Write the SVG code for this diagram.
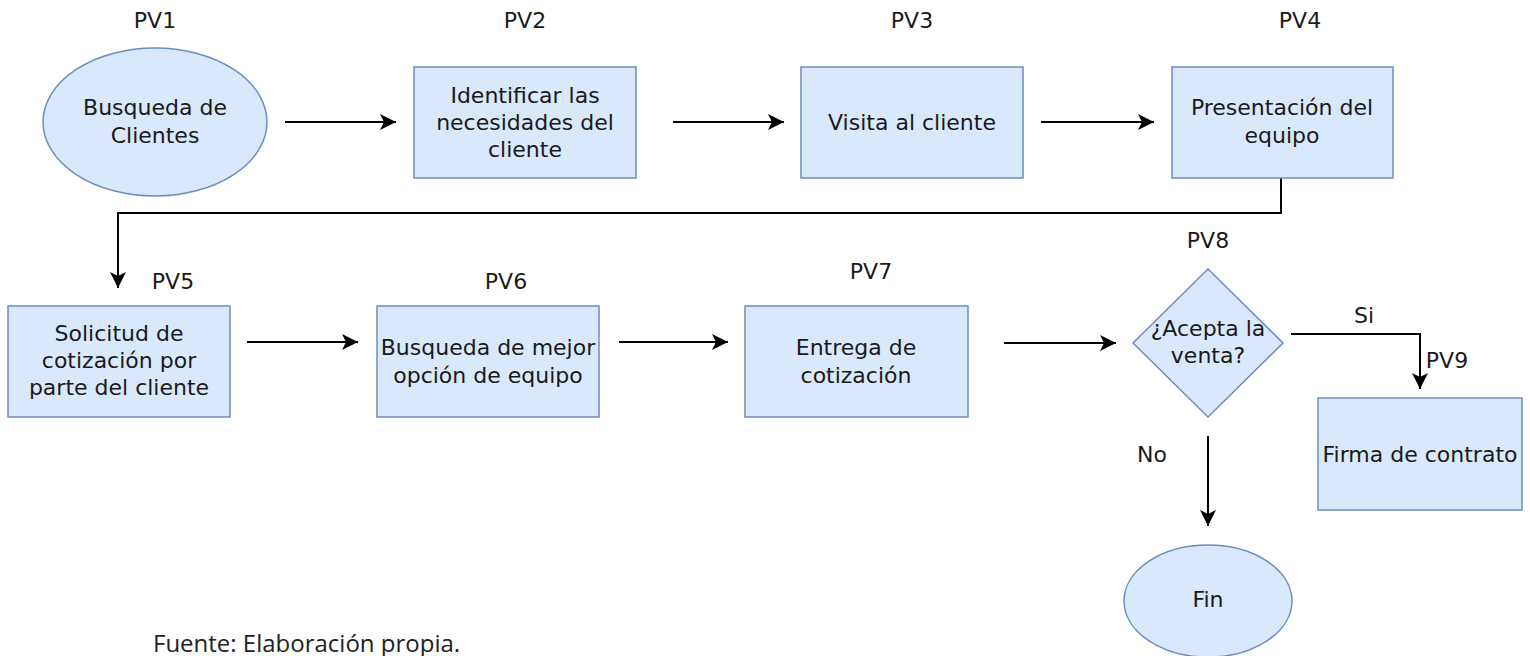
<svg xmlns="http://www.w3.org/2000/svg" width="1530" height="656" viewBox="0 0 1530 656">
<defs>
<style>
.n{fill:#dae8fc;stroke:#6c8ebf;stroke-width:1.5}
.t{font-family:"DejaVu Sans",Verdana,sans-serif;font-size:22px;fill:#1a1a1a;text-anchor:middle}
.c{fill:none;stroke:#000;stroke-width:2;marker-end:url(#ah)}
</style>
<marker id="ah" markerUnits="userSpaceOnUse" markerWidth="18" markerHeight="16" refX="16" refY="8" orient="auto">
<path d="M0,0 L16,8 L0,16 L4,8 Z" fill="#000"/>
</marker>
</defs>
<rect width="1530" height="656" fill="#fff"/>
<g id="connectors">
<line class="c" x1="285" y1="122" x2="396" y2="122"/>
<line class="c" x1="673" y1="122" x2="784" y2="122"/>
<line class="c" x1="1041" y1="122" x2="1154" y2="122"/>
<polyline class="c" points="1281,178 1281,213 118,213 118,288"/>
<line class="c" x1="247" y1="342" x2="358" y2="342"/>
<line class="c" x1="619" y1="342" x2="728" y2="342"/>
<line class="c" x1="1004" y1="343" x2="1116" y2="343"/>
<polyline class="c" points="1291,334 1420,334 1420,389"/>
<line class="c" x1="1208" y1="436" x2="1208" y2="526"/>
<text class="t" x="1364" y="323">Si</text>
<text class="t" x="1152" y="462">No</text>
</g>
<g id="pv1">
<text class="t" x="155" y="28">PV1</text>
<ellipse class="n" cx="155" cy="122" rx="112" ry="74"/>
<text class="t" x="155" y="115">Busqueda de</text>
<text class="t" x="155" y="143">Clientes</text>
</g>
<g id="pv2">
<text class="t" x="525" y="28">PV2</text>
<rect class="n" x="414" y="67" width="222" height="111"/>
<text class="t" x="525" y="103">Identificar las</text>
<text class="t" x="525" y="130">necesidades del</text>
<text class="t" x="525" y="157">cliente</text>
</g>
<g id="pv3">
<text class="t" x="912" y="28">PV3</text>
<rect class="n" x="801" y="67" width="222" height="111"/>
<text class="t" x="912" y="130">Visita al cliente</text>
</g>
<g id="pv4">
<text class="t" x="1300" y="28">PV4</text>
<rect class="n" x="1172" y="67" width="221" height="111"/>
<text class="t" x="1282" y="115">Presentación del</text>
<text class="t" x="1282" y="143">equipo</text>
</g>
<g id="pv5">
<text class="t" x="173" y="289">PV5</text>
<rect class="n" x="8" y="306" width="222" height="111"/>
<text class="t" x="119" y="341">Solicitud de</text>
<text class="t" x="119" y="368">cotización por</text>
<text class="t" x="119" y="395">parte del cliente</text>
</g>
<g id="pv6">
<text class="t" x="506" y="289">PV6</text>
<rect class="n" x="377" y="306" width="222" height="111"/>
<text class="t" x="488" y="355">Busqueda de mejor</text>
<text class="t" x="488" y="383">opción de equipo</text>
</g>
<g id="pv7">
<text class="t" x="871" y="279">PV7</text>
<rect class="n" x="745" y="306" width="223" height="111"/>
<text class="t" x="856" y="355">Entrega de</text>
<text class="t" x="856" y="383">cotización</text>
</g>
<g id="pv8">
<text class="t" x="1208" y="248">PV8</text>
<polygon class="n" points="1208,269 1283,343 1208,417 1133,343"/>
<text class="t" x="1208" y="336">¿Acepta la</text>
<text class="t" x="1208" y="363">venta?</text>
</g>
<g id="pv9">
<text class="t" x="1447" y="368">PV9</text>
<rect class="n" x="1318" y="398" width="204" height="112"/>
<text class="t" x="1420" y="462">Firma de contrato</text>
</g>
<g id="fin">
<ellipse class="n" cx="1208" cy="601" rx="84" ry="56"/>
<text class="t" x="1208" y="607">Fin</text>
</g>
<text x="153" y="652" style="font-family:'Open Sans',sans-serif;font-size:24px;fill:#222">Fuente: Elaboración propia.</text>
</svg>
